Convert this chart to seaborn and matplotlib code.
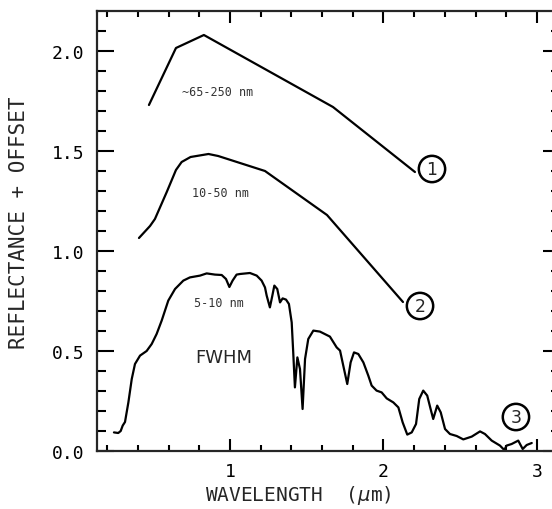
import matplotlib
matplotlib.use("Agg")
import matplotlib.pyplot as plt
import numpy as np
import pandas as pd
import seaborn as sns
from matplotlib.ticker import FixedLocator

# Spectrum 1: ~65-250 nm resolution (offset upward)
c1_wl = [0.472, 0.648, 0.830, 1.671, 2.205]
c1_refl = [1.73, 2.015, 2.08, 1.72, 1.395]

# Spectrum 2: 10-50 nm resolution (offset upward)
c2_wl = [0.407, 0.479, 0.511, 0.588, 0.648, 0.685, 0.743, 0.860, 0.923,
         1.228, 1.632, 2.127]
c2_refl = [1.065, 1.125, 1.16, 1.295, 1.405, 1.445, 1.47, 1.485, 1.475,
           1.40, 1.18, 0.745]

# Spectrum 3: 5-10 nm resolution
c3_wl = [0.244, 0.272, 0.288, 0.301, 0.316, 0.338, 0.360, 0.381, 0.414, 0.457,
         0.490, 0.522, 0.555, 0.598, 0.642, 0.696, 0.739, 0.805, 0.848, 0.902,
         0.946, 0.974, 0.996, 1.017, 1.043, 1.065, 1.130, 1.174, 1.206, 1.228,
         1.239, 1.260, 1.276, 1.289, 1.308, 1.326, 1.343, 1.365, 1.384, 1.402,
         1.412, 1.423, 1.439, 1.456, 1.473, 1.489, 1.510, 1.543, 1.586, 1.651,
         1.695, 1.717, 1.738, 1.764, 1.786, 1.808, 1.836, 1.869, 1.901, 1.923,
         1.955, 1.988, 2.021, 2.064, 2.097, 2.125, 2.155, 2.184, 2.212, 2.233,
         2.259, 2.285, 2.307, 2.324, 2.350, 2.373, 2.401, 2.433, 2.477, 2.520,
         2.575, 2.629, 2.661, 2.705, 2.759, 2.787, 2.802, 2.835, 2.878, 2.907,
         2.933, 2.966]
c3_refl = [0.093, 0.090, 0.100, 0.127, 0.145, 0.243, 0.360, 0.435, 0.477, 0.500,
           0.535, 0.585, 0.652, 0.752, 0.810, 0.852, 0.868, 0.877, 0.888, 0.882,
           0.880, 0.860, 0.820, 0.852, 0.882, 0.885, 0.890, 0.877, 0.852, 0.818,
           0.777, 0.718, 0.777, 0.827, 0.810, 0.743, 0.763, 0.757, 0.735, 0.643,
           0.493, 0.318, 0.468, 0.410, 0.210, 0.460, 0.560, 0.602, 0.597, 0.572,
           0.518, 0.502, 0.427, 0.335, 0.443, 0.493, 0.485, 0.443, 0.377, 0.327,
           0.302, 0.293, 0.263, 0.243, 0.218, 0.143, 0.082, 0.093, 0.135, 0.260,
           0.302, 0.277, 0.210, 0.160, 0.227, 0.193, 0.110, 0.085, 0.075, 0.058,
           0.072, 0.098, 0.085, 0.052, 0.027, 0.005, 0.027, 0.035, 0.052, 0.010,
           0.030, 0.040]

x_major = [1, 2, 3]
x_tick_labels = ["1", "2", "3"]
y_major = [0.0, 0.5, 1.0, 1.5, 2.0]
y_tick_labels = ["0.0", "0.5", "1.0", "1.5", "2.0"]

resolution_labels = ["~65-250 nm", "10-50 nm", "5-10 nm"]
curve_numbers = ["1", "2", "3"]

sns.set_style("ticks")
plt.rcParams["font.family"] = ["DejaVu Sans Mono", "DejaVu Sans"]
plt.rcParams["mathtext.fontset"] = "dejavusans"

fig = plt.figure(figsize=(5.52, 5.10), dpi=100)
ax = fig.add_axes([97 / 552, 1 - 452 / 510, (560 - 97) / 552, (452 - 12) / 510])

frames = []
for name, wl, refl in [("c1", c1_wl, c1_refl), ("c2", c2_wl, c2_refl),
                       ("c3", c3_wl, c3_refl)]:
    frames.append(pd.DataFrame({"wavelength": wl, "reflectance": refl,
                                "spectrum": name}))
df = pd.concat(frames, ignore_index=True)

for name in ["c1", "c2", "c3"]:
    sns.lineplot(data=df[df["spectrum"] == name], x="wavelength",
                 y="reflectance", sort=False, estimator=None, color="black",
                 linewidth=1.6, ax=ax, legend=False)

ax.set_xlim(0.1336, 3.15)
ax.set_ylim(0.0, 2.2)

ax.xaxis.set_major_locator(FixedLocator(x_major))
ax.set_xticklabels(x_tick_labels)
ax.xaxis.set_minor_locator(FixedLocator(
    [v for v in np.round(np.arange(0.2, 3.01, 0.2), 2) if v not in x_major]))
ax.yaxis.set_major_locator(FixedLocator(y_major))
ax.set_yticklabels(y_tick_labels)
ax.yaxis.set_minor_locator(FixedLocator(
    [v for v in np.round(np.arange(0.1, 2.2, 0.1), 2) if v not in y_major]))

for side in ["left", "right", "top", "bottom"]:
    ax.spines[side].set_visible(True)
    ax.spines[side].set_linewidth(1.6)

ax.tick_params(axis="both", which="both", direction="in", colors="black",
               width=1.5, labelsize=13)
ax.tick_params(axis="y", which="major", length=12, pad=9, left=True, right=True)
ax.tick_params(axis="y", which="minor", length=6.5, left=True, right=True)
ax.tick_params(axis="x", which="major", length=8.6, pad=8, top=True, bottom=True)
ax.tick_params(axis="x", which="minor", length=4.3, top=True, bottom=True)

ax.set_xlabel("WAVELENGTH  ($\\mu$m)", fontsize=14)
ax.set_ylabel("REFLECTANCE + OFFSET", fontsize=15)
ax.xaxis.label.set_va("center")
ax.xaxis.set_label_coords(0.434, -0.098)
ax.yaxis.set_label_coords(-0.147, 0.52)

# Resolution notes beside each spectrum
for label, (x, y) in zip(resolution_labels,
                         [(0.922, 1.795), (0.941, 1.29), (0.928, 0.74)]):
    ax.text(x, y, label, fontsize=8.5, ha="center", va="center",
            color="#333333")
ax.text(0.961, 0.47, "FWHM", fontsize=13, ha="center", va="center",
        family="DejaVu Sans")

# Circled curve numbers
for num, (x, y) in zip(curve_numbers,
                       [(2.316, 1.41), (2.238, 0.725), (2.863, 0.17)]):
    ax.text(x, y, num, fontsize=12.5, ha="center", va="center",
            family="DejaVu Sans",
            bbox=dict(boxstyle="circle,pad=0.24", fc="white", ec="black",
                      lw=1.8))

fig.savefig("out.png", dpi=100)
